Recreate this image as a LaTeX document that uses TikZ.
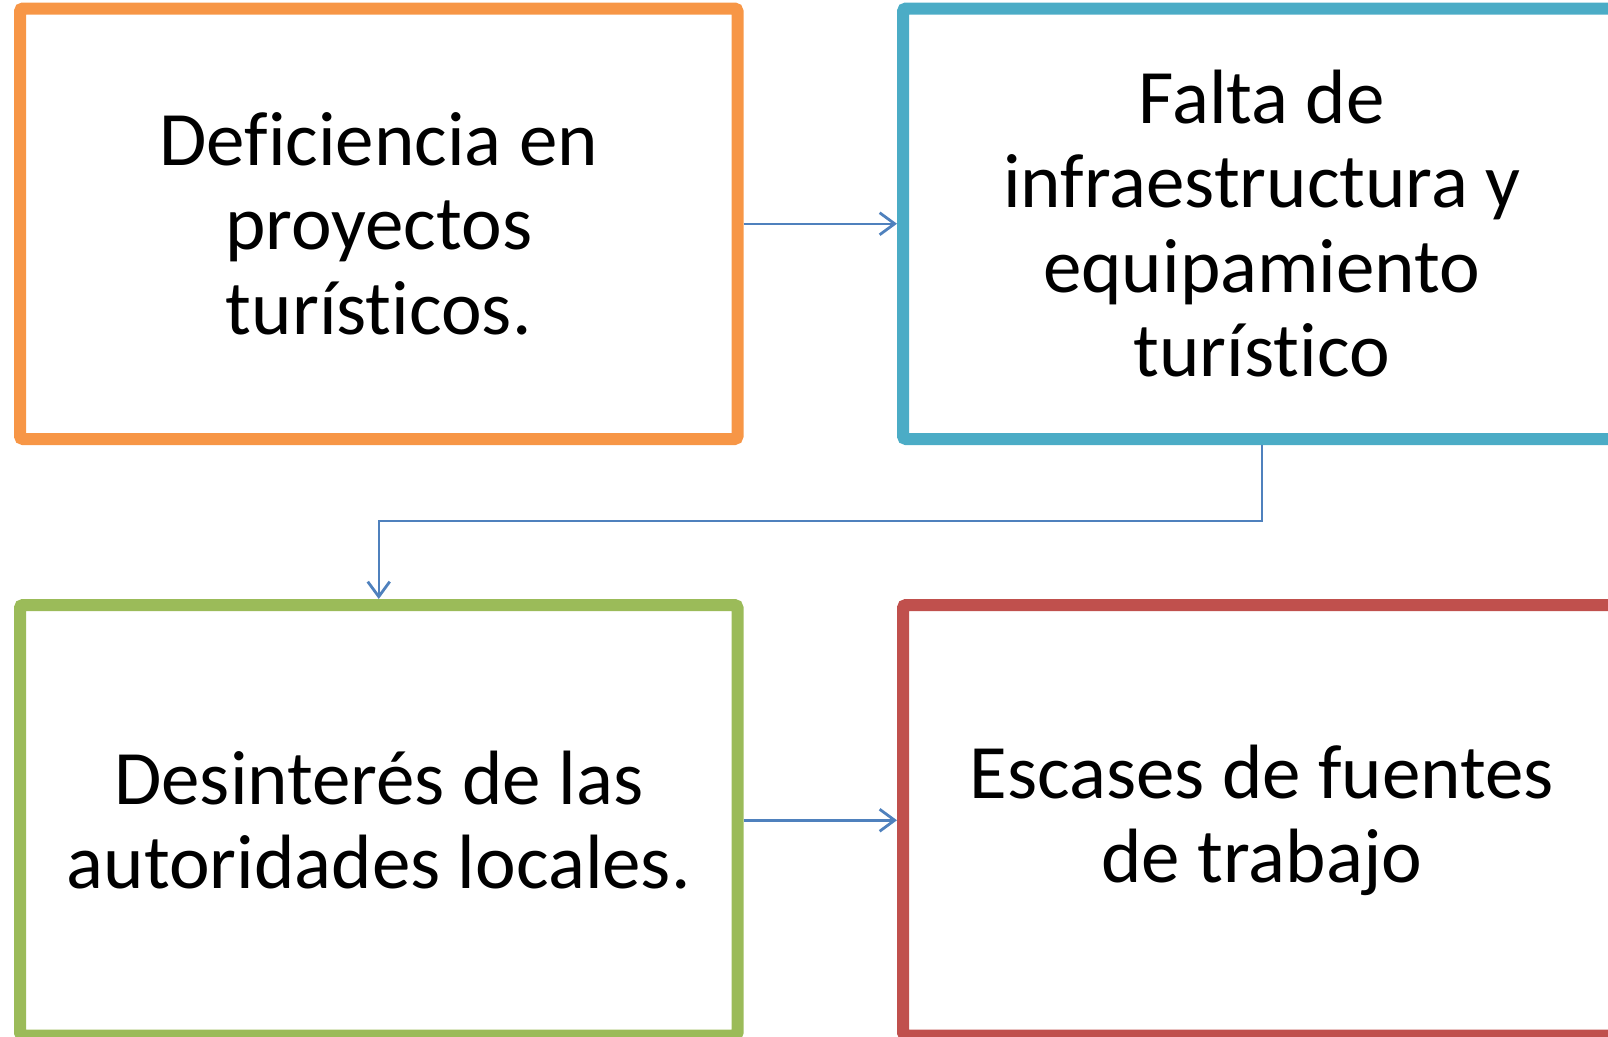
\documentclass[tikz,border=0pt]{standalone}
\usepackage{fontspec}
\setmainfont{Carlito}[Ligatures=NoCommon]
\usetikzlibrary{arrows.meta}

\definecolor{boxorange}{HTML}{F79646}
\definecolor{boxblue}{HTML}{4BACC6}
\definecolor{boxgreen}{HTML}{9BBB59}
\definecolor{boxred}{HTML}{C0504D}
\definecolor{linkblue}{HTML}{4F81BD}

\begin{document}
\begin{tikzpicture}[x=1pt,y=-1pt,
    link/.style={draw=linkblue,line width=2.5pt,-{Straight Barb[length=15pt,width=22pt,line width=2.8pt]}}]

        \useasboundingbox (0,0) rectangle (1608,1036);

        \begin{scope}[every node/.style={rectangle,draw,line width=12pt,rounded corners=3pt,
            minimum width=717.5pt,minimum height=430.5pt,align=center,
            font=\fontsize{77pt}{84.5pt}\selectfont}]
          \node[draw=boxorange] (deficiencia) at (378.75,223.75)  {Deficiencia en\\proyectos\\turísticos.};
          \node[draw=boxblue]   (falta)       at (1261.75,223.75) {Falta de\\infraestructura y\\equipamiento\\turístico};
          \node[draw=boxgreen]  (desinteres)  at (378.75,820.25)  {Desinterés de las\\autoridades locales.};
          \node[draw=boxred]    (escases)     at (1261.75,820.25) {Escases de fuentes\\de trabajo};
        \end{scope}

        \begin{scope}[every edge/.style={link}]
          \path (deficiencia) edge (falta);
          \path (desinteres)  edge (escases);
        \end{scope}
        \draw[link] (falta.south) -- ++(0,76) -| (desinteres.north);

      \end{tikzpicture}
\end{document}
